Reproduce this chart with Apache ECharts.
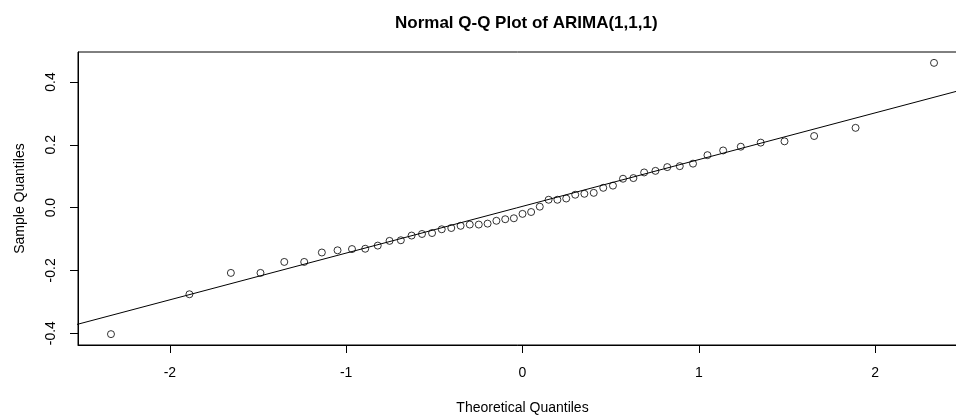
<!DOCTYPE html>
<html>
<head>
<meta charset="utf-8">
<script src="https://cdn.jsdelivr.net/npm/echarts@6/dist/echarts.min.js"></script>
<style>
  html, body { margin: 0; padding: 0; background: #fff; }
  #chart { width: 956px; height: 418px; }
</style>
</head>
<body>
<div id="chart"></div>
<script>
// theoretical quantiles (n = 51)
const theoretical = [
  -2.334, -1.889, -1.654, -1.486, -1.351, -1.238, -1.138, -1.049, -0.967, -0.892,
  -0.821, -0.754, -0.690, -0.629, -0.570, -0.513, -0.458, -0.404, -0.351, -0.299,
  -0.248, -0.198, -0.148, -0.098, -0.049, 0.000, 0.049, 0.098, 0.148, 0.198,
  0.248, 0.299, 0.351, 0.404, 0.458, 0.513, 0.570, 0.629, 0.690, 0.754,
  0.821, 0.892, 0.967, 1.049, 1.138, 1.238, 1.351, 1.486, 1.654, 1.889, 2.334
]
// sample quantiles (sorted residuals)
const sample = [
  -0.403, -0.276, -0.208, -0.208, -0.173, -0.173, -0.143, -0.136, -0.132, -0.131,
  -0.121, -0.106, -0.104, -0.089, -0.084, -0.081, -0.069, -0.065, -0.058, -0.054,
  -0.054, -0.051, -0.042, -0.037, -0.034, -0.020, -0.014, 0.003, 0.025, 0.025,
  0.029, 0.041, 0.044, 0.047, 0.063, 0.070, 0.092, 0.094, 0.112, 0.117,
  0.129, 0.132, 0.140, 0.167, 0.182, 0.194, 0.207, 0.211, 0.228, 0.254, 0.461
]
// qqline end points
const lineX = [-2.6, 2.6]
const lineY = [-0.383, 0.391]
const xTicks = [-2, -1, 0, 1, 2]
const yTicks = [-0.4, -0.2, 0, 0.2, 0.4]

const chart = echarts.init(document.getElementById('chart'))
const font = 'Liberation Sans, Arial, sans-serif'

const option = {
  animation: false,
  backgroundColor: '#fff',
  title: {
    text: 'Normal Q-Q Plot of ARIMA(1,1,1)',
    left: 390,
    top: 10,
    textStyle: { color: '#000', fontWeight: 'bold', fontSize: 17, fontFamily: font }
  },
  grid: {
    left: 78,
    top: 52,
    width: 889,
    height: 293,
    outerBoundsMode: 'none',
    show: true,
    borderColor: '#000',
    borderWidth: 1,
    backgroundColor: 'transparent'
  },
  xAxis: {
    type: 'value',
    min: -2.521,
    max: 2.521,
    name: 'Theoretical Quantiles',
    nameLocation: 'middle',
    nameGap: 56,
    nameTextStyle: { color: '#000', fontSize: 14, fontFamily: font },
    axisLine: { show: true, onZero: false, lineStyle: { color: '#000', width: 1 } },
    axisTick: { show: true, length: 8, customValues: xTicks, lineStyle: { color: '#000' } },
    axisLabel: { customValues: xTicks, margin: 21, color: '#000', fontSize: 14, fontFamily: font },
    splitLine: { show: false }
  },
  yAxis: {
    type: 'value',
    min: -0.4376,
    max: 0.4956,
    name: 'Sample Quantiles',
    nameLocation: 'middle',
    nameGap: 51,
    nameRotate: 90,
    nameTextStyle: { color: '#000', fontSize: 14, fontFamily: font },
    axisLine: { show: true, onZero: false, lineStyle: { color: '#000', width: 1 } },
    axisTick: { show: true, length: 8, customValues: yTicks, lineStyle: { color: '#000' } },
    axisLabel: {
      customValues: yTicks,
      rotate: 90,
      margin: 20,
      color: '#000',
      fontSize: 14,
      fontFamily: font,
      formatter: (v) => v.toFixed(1)
    },
    splitLine: { show: false }
  },
  series: [
    {
      name: 'sample',
      type: 'scatter',
      symbol: 'circle',
      symbolSize: 7,
      itemStyle: { color: 'transparent', borderColor: '#000', borderWidth: 1 },
      emphasis: { disabled: true },
      data: theoretical.map((x, i) => [x, sample[i]])
    },
    {
      name: 'qqline',
      type: 'line',
      symbol: 'none',
      clip: true,
      lineStyle: { color: '#000', width: 1 },
      emphasis: { disabled: true },
      data: lineX.map((x, i) => [x, lineY[i]])
    }
  ]
}
chart.setOption(option)
</script>
</body>
</html>
